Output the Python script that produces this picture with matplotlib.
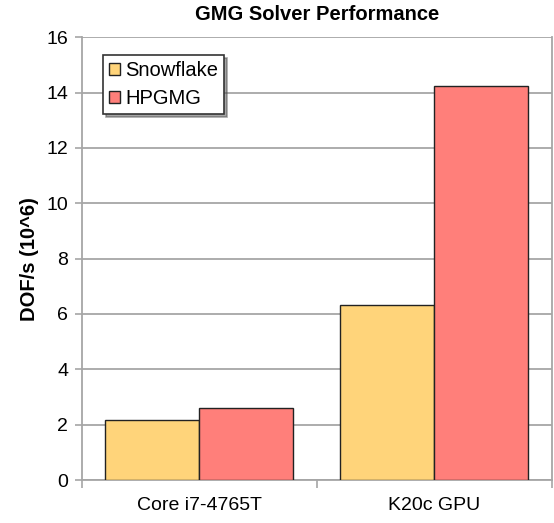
# -------------------------------------------------------------------------------------
# Library
import numpy as np
import matplotlib
matplotlib.use('Agg')
import matplotlib.pyplot as plt
from matplotlib.patches import Patch
# -------------------------------------------------------------------------------------

# -------------------------------------------------------------------------------------
# Data
categories = ['Core i7-4765T', 'K20c GPU']
series_names = ['Snowflake', 'HPGMG']
snowflake = [2.17, 6.33]
hpgmg = [2.59, 14.23]
y_ticks = [0, 2, 4, 6, 8, 10, 12, 14, 16]
# -------------------------------------------------------------------------------------

plt.rcParams['font.family'] = ['Liberation Sans', 'DejaVu Sans']

colors = ['#FFD47A', '#FF7F7A']
grid_color = '#A6A6A6'

fig = plt.figure(figsize=(5.54, 5.23), dpi=100)
ax = fig.add_axes([0.148, 0.082, 0.848, 0.847])

x = np.arange(len(categories)) + 0.5
width = 0.4
ax.bar(x - width / 2, snowflake, width, color=colors[0], edgecolor='#222222',
       linewidth=1.0, zorder=3)
ax.bar(x + width / 2, hpgmg, width, color=colors[1], edgecolor='#222222',
       linewidth=1.0, zorder=3)

ax.set_xlim(0, len(categories))
ax.set_ylim(0, 16)
ax.set_yticks(y_ticks)
ax.set_yticklabels([str(v) for v in y_ticks], fontsize=14)

# category labels centred, ticks on the boundaries
ax.set_xticks(np.arange(len(categories) + 1))
ax.set_xticklabels([])
ax.set_xticks(x, minor=True)
ax.set_xticklabels(categories, minor=True, fontsize=14)
ax.tick_params(axis='x', which='minor', length=0, pad=12)
ax.tick_params(axis='x', which='major', length=6, width=1.2, color=grid_color)
ax.tick_params(axis='y', length=5, width=1.2, color=grid_color, pad=5)

ax.yaxis.grid(True, color=grid_color, linewidth=1.3, zorder=0)
ax.set_axisbelow(True)
for side in ['left', 'bottom', 'right']:
    ax.spines[side].set_color(grid_color)
    ax.spines[side].set_linewidth(1.3)
ax.spines['top'].set_visible(False)

ax.set_ylabel('DOF/s (10^6)', fontsize=14.5, fontweight='bold', labelpad=5)
ax.set_title('GMG Solver Performance', fontsize=14.5, fontweight='bold', pad=12)

handles = [Patch(facecolor=c, edgecolor='#222222', linewidth=1.0) for c in colors]
leg = ax.legend(handles, series_names, loc='upper left', bbox_to_anchor=(0.045, 0.96),
                fontsize=14.5, frameon=True, fancybox=False, shadow=True,
                handlelength=0.55, handleheight=0.55, handletextpad=0.25,
                borderpad=0.3, labelspacing=0.45, borderaxespad=0.0)
leg.get_frame().set_edgecolor('#333333')
leg.get_frame().set_linewidth(1.2)

fig.savefig('out.png', dpi=100)
